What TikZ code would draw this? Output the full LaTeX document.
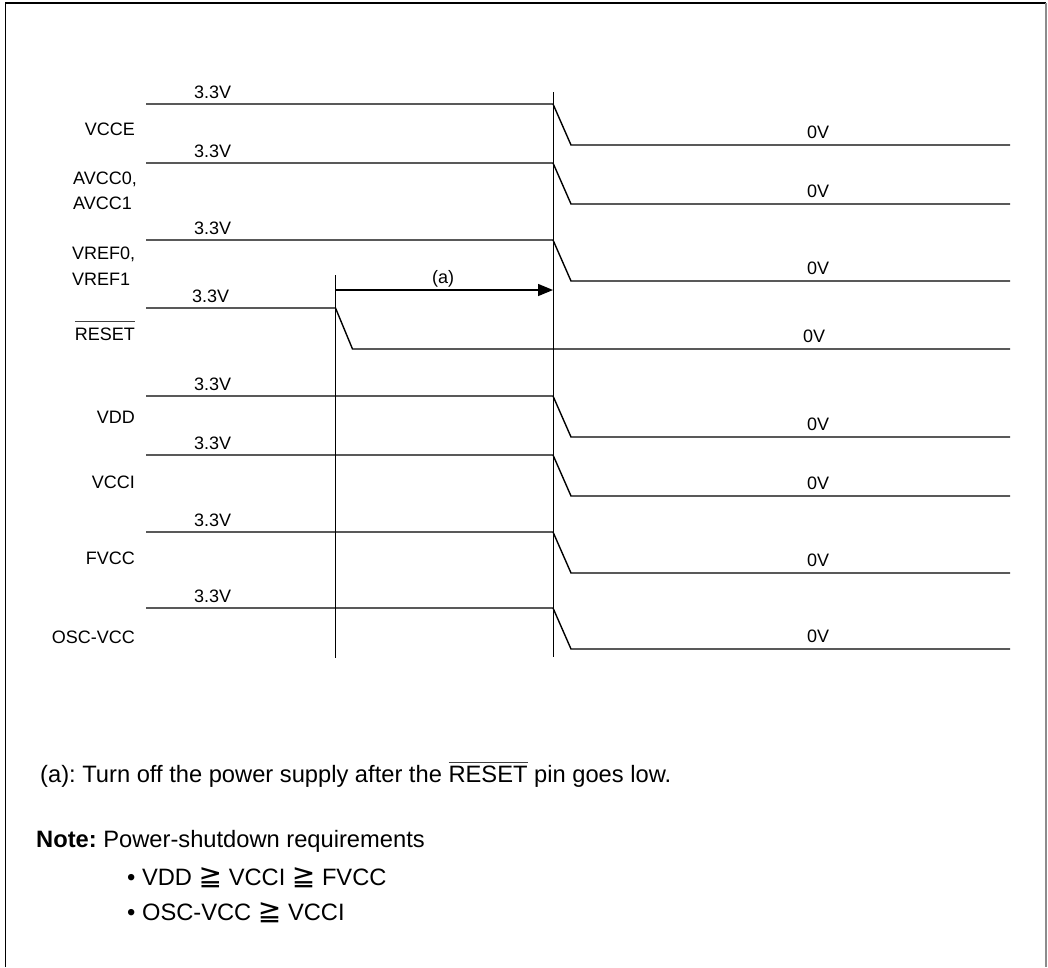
\documentclass[tikz,border=0pt]{standalone}
\usepackage{fontspec}
\setmainfont{Liberation Sans}
\newfontfamily\symfont{DejaVu Sans}
\usetikzlibrary{arrows.meta}
\frenchspacing
\newcommand{\ovl}[2][2.5pt]{\setbox0\hbox{#2}\rlap{\color{black!75}\rule[\dimexpr\ht0+#1\relax]{\wd0}{0.8pt}}\box0\relax}
\newcommand{\geqsym}{{\symfont\fontsize{28}{28}\selectfont ≧}}
\begin{document}
\begin{tikzpicture}[x=1pt,y=-1pt,
  sig/.style={line width=1.4pt},
  vline/.style={line width=1pt},
  frame/.style={line width=1.2pt},
  lbl/.style={font=\fontsize{18}{21}\selectfont, inner sep=0pt},
  txt/.style={font=\fontsize{23.7}{28}\selectfont, inner sep=0pt, anchor=base west}]
\useasboundingbox (0,0) rectangle (1048,967);
% frame
\draw[frame] (5.5,967) -- (5.5,3) -- (1046,3);
\draw[frame, black!45] (1046,3) -- (1046,967);
% signals
\foreach \n/\h/\l in {vcce/104/145, avcc/163/204, vref/240/281, vdd/396/437, vcci/455/496, fvcc/532/573, osc/608/649}{
  \draw[sig] (146,\h) -- (553,\h) -- (571,\l) -- (1010,\l);
  \node[lbl, anchor=base west] (hi\n) at (194,\h-6) {3.3V};
  \node[lbl, anchor=base west] (lo\n) at (807,\l-7) {0V};
}
% RESET
\draw[sig] (146,308) -- (335.5,308) -- (352.5,349) -- (1010,349);
\node[lbl, anchor=base west] (hirst) at (192,302) {3.3V};
\node[lbl, anchor=base west] (lorst) at (803,342) {0V};
% vertical markers
\coordinate (v1t) at (335.5,275);
\coordinate (v1b) at (335.5,658);
\coordinate (v2t) at (553,92);
\coordinate (v2b) at (553,657);
\draw[vline] (v1t) -- (v1b);
\draw[vline] (v2t) -- (v2b);
% arrow (a)
\coordinate (aS) at (335.5,290);
\coordinate (aE) at (553,290);
\draw[line width=1.5pt, -{Triangle[length=15pt,width=12pt]}] (aS) -- (aE);
\node[lbl, anchor=base] (alab) at (443,283) {(a)};
% left labels
\node[lbl, anchor=base east] (nvcce) at (135,135.5) {VCCE};
\node[lbl, anchor=base west] (navcc0) at (73,184.5) {AVCC0,};
\node[lbl, anchor=base west] (navcc1) at (73,209.5) {AVCC1};
\node[lbl, anchor=base west] (nvref0) at (72,259.5) {VREF0,};
\node[lbl, anchor=base west] (nvref1) at (72,285.5) {VREF1};
\node[lbl, anchor=base east] (nrst) at (135,340.5) {\ovl[6pt]{RESET}};
\node[lbl, anchor=base east] (nvdd) at (135,423.5) {VDD};
\node[lbl, anchor=base east] (nvcci) at (135,488.5) {VCCI};
\node[lbl, anchor=base east] (nfvcc) at (135,564.5) {FVCC};
\node[lbl, anchor=base east] (nosc) at (135,643.5) {OSC-VCC};
% notes
\node[txt] (cap) at (40,782) {(a): Turn off the power supply after the \ovl{RESET} pin goes low.};
\node[txt] (note) at (36,847) {\textbf{Note:} Power-shutdown requirements};
\node[txt] (b1) at (127,885) {• VDD \geqsym{} VCCI \geqsym{} FVCC};
\node[txt] (b2) at (127,920) {• OSC-VCC \geqsym{} VCCI};
\end{tikzpicture}
\end{document}
